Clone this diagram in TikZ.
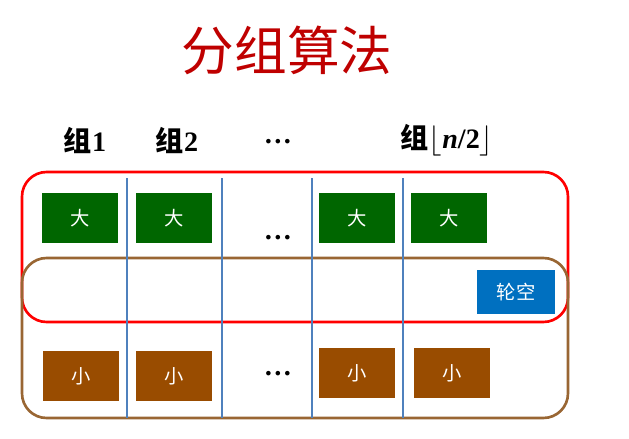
\documentclass[tikz,border=0pt]{standalone}
\usepackage{fontspec}
\setmainfont{Liberation Serif}
\newfontfamily\cjk{Noto Sans CJK SC}
\begin{document}
\begin{tikzpicture}[x=0.02cm,y=-0.02cm,
  bx/.style={draw=none,minimum width=1.52cm,minimum height=1.0cm,text=white,font=\cjk\fontsize{11}{11}\selectfont,inner sep=0pt},
  big/.style={bx,fill=green!40!black},
  small/.style={bx,fill={rgb,255:red,153;green,76;blue,0}},
  hdr/.style={font=\bfseries\fontsize{16}{16}\selectfont},
  sep/.style={draw={rgb,255:red,79;green,129;blue,189},line width=1.5pt}]
\useasboundingbox (0,0) rectangle (629,439);
\node (title) at (287,50) {\cjk\fontsize{30}{30}\selectfont\color[rgb]{0.75,0,0}分组算法};
\node[hdr] (h1) at (85,140) {{\cjk 组}1};
\node[hdr] (h2) at (177,140) {{\cjk 组}2};
\node[hdr] (h3) at (278,142) {\dots};
\node[hdr] (h4) at (447,140) {{\cjk 组}$\lfloor$\textit{n}/2$\rfloor$};
\draw[red,line width=1.5pt,rounded corners=14pt] (22,172) rectangle (568,322);
\draw[brown!80!black,line width=1.5pt,rounded corners=14pt] (22,258) rectangle (568,418);
\foreach \x in {127,222,312,403} \draw[sep] (\x,178) -- (\x,418);
\node[big] (b1) at (80,218) {大};
\node[big] (b2) at (174,218) {大};
\node[big] (b3) at (357,218) {大};
\node[big] (b4) at (449,218) {大};
\node[hdr] (d1) at (278,238) {\dots};
\node[hdr] (d2) at (278,374) {\dots};
\node[bx,fill={rgb,255:red,0;green,112;blue,192},minimum width=1.56cm,minimum height=0.88cm] (bye) at (516,292) {轮空};
\node[small] (s1) at (81,376) {小};
\node[small] (s2) at (174,376) {小};
\node[small] (s3) at (357,373) {小};
\node[small] (s4) at (452,373) {小};
\end{tikzpicture}
\end{document}
